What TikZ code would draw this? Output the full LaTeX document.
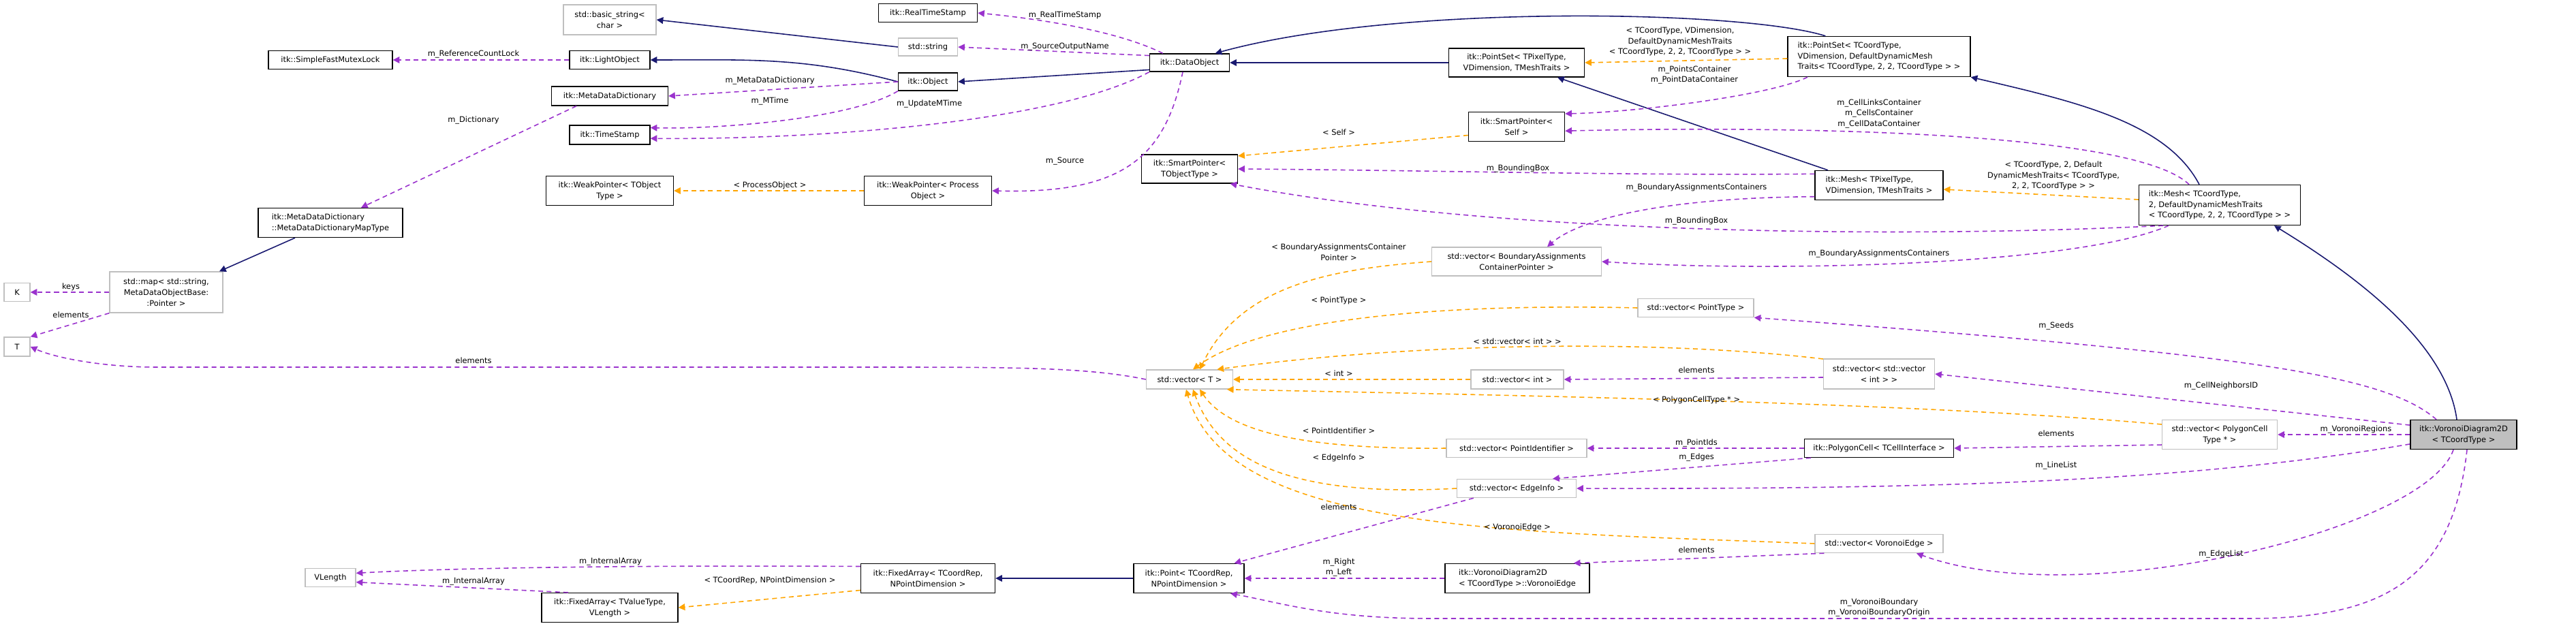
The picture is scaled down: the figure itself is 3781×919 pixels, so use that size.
\documentclass[tikz,border=0pt]{standalone}
\usepackage{fontspec}
\setmainfont{DejaVu Sans}
\usetikzlibrary{arrows.meta}
\definecolor{mem}{HTML}{9A32CD}
\definecolor{tpl}{HTML}{FFA500}
\definecolor{inh}{HTML}{191970}
\definecolor{gb}{HTML}{BFBFBF}
\begin{document}
\begin{tikzpicture}[x=0.02cm,y=-0.02cm,
  every node/.style={font=\fontsize{6.5}{9}\selectfont, inner sep=0pt},
  box/.style={draw=black, line width=0.8pt, fill=white, align=center},
  gbox/.style={draw=gb, line width=0.8pt, fill=white, align=center},
  lb/.style={align=center},
  mm/.style={draw=mem, line width=0.9pt, dash pattern=on 4pt off 3pt, -{Triangle[length=5.5pt,width=5.5pt]}},
  tp/.style={draw=tpl, line width=0.9pt, dash pattern=on 4pt off 3pt, -{Triangle[length=5.5pt,width=5.5pt]}},
  ih/.style={draw=inh, line width=0.9pt, -{Triangle[length=5.5pt,width=5.5pt]}}]
\useasboundingbox (0,0) rectangle (3781,919);
% nodes
\node[gbox, minimum width=2.72cm, minimum height=0.88cm] (bstr) at (895,29) {std::basic\_string<\\char >};
\node[box, minimum width=3.64cm, minimum height=0.54cm] (sfml) at (485,88) {itk::SimpleFastMutexLock};
\node[box, minimum width=2.36cm, minimum height=0.54cm] (lobj) at (895,88) {itk::LightObject};
\node[box, minimum width=3.42cm, minimum height=0.56cm] (mdd) at (895,141) {itk::MetaDataDictionary};
\node[box, minimum width=2.36cm, minimum height=0.56cm] (ts) at (895,198) {itk::TimeStamp};
\node[box, minimum width=3.74cm, minimum height=0.86cm] (wpt) at (895,280) {itk::WeakPointer< TObject\\Type >};
\node[box, minimum width=4.24cm, minimum height=0.86cm, align=left] (mapt) at (485,327) {itk::MetaDataDictionary\\::MetaDataDictionaryMapType};
\node[gbox, minimum width=3.32cm, minimum height=1.2cm] (map) at (244,429) {std::map< std::string,\\MetaDataObjectBase:\\:Pointer >};
\node[gbox, minimum width=0.76cm, minimum height=0.54cm] (K) at (25,429) {K};
\node[gbox, minimum width=0.76cm, minimum height=0.56cm] (T) at (25,509) {T};
\node[gbox, minimum width=1.48cm, minimum height=0.54cm] (vlen) at (485,848) {VLength};
\node[box, minimum width=4.0cm, minimum height=0.86cm] (fatv) at (895,892) {itk::FixedArray< TValueType,\\VLength >};
\node[box, minimum width=2.9cm, minimum height=0.54cm] (rts) at (1362,19) {itk::RealTimeStamp};
\node[gbox, minimum width=1.74cm, minimum height=0.52cm] (str) at (1362,69) {std::string};
\node[box, minimum width=1.74cm, minimum height=0.52cm] (obj) at (1362,120) {itk::Object};
\node[box, minimum width=2.34cm, minimum height=0.52cm] (dobj) at (1746,92) {itk::DataObject};
\node[box, minimum width=3.74cm, minimum height=0.86cm] (wpp) at (1362,280) {itk::WeakPointer< Process\\Object >};
\node[box, minimum width=2.82cm, minimum height=0.84cm] (spt) at (1746,248) {itk::SmartPointer<\\TObjectType >};
\node[box, minimum width=3.98cm, minimum height=0.84cm] (psp) at (2226,92) {itk::PointSet< TPixelType,\\VDimension, TMeshTraits >};
\node[box, minimum width=2.82cm, minimum height=0.86cm] (sps) at (2226,186) {itk::SmartPointer<\\Self >};
\node[gbox, minimum width=4.98cm, minimum height=0.84cm] (vba) at (2226,384) {std::vector< BoundaryAssignments\\ContainerPointer >};
\node[box, minimum width=5.36cm, minimum height=1.18cm, align=left] (psc) at (2758,83) {itk::PointSet< TCoordType,\\ VDimension, DefaultDynamicMesh\\Traits< TCoordType, 2, 2, TCoordType > >};
\node[box, minimum width=3.76cm, minimum height=0.86cm, align=left] (meshp) at (2758,272) {itk::Mesh< TPixelType,\\ VDimension, TMeshTraits >};
\node[box, minimum width=4.74cm, minimum height=1.18cm, align=left] (meshc) at (3258,301) {itk::Mesh< TCoordType,\\ 2, DefaultDynamicMeshTraits\\< TCoordType, 2, 2, TCoordType > >};
\node[gbox, minimum width=3.4cm, minimum height=0.54cm] (vpt) at (2489,452) {std::vector< PointType >};
\node[gbox, minimum width=2.54cm, minimum height=0.56cm] (vT) at (1746,557) {std::vector< T >};
\node[gbox, minimum width=2.72cm, minimum height=0.56cm] (vint) at (2227,557) {std::vector< int >};
\node[gbox, minimum width=4.12cm, minimum height=0.54cm] (vpid) at (2226,658) {std::vector< PointIdentifier >};
\node[gbox, minimum width=3.5cm, minimum height=0.54cm] (vei) at (2226,717) {std::vector< EdgeInfo >};
\node[box, minimum width=3.94cm, minimum height=0.86cm] (fac) at (1362,849) {itk::FixedArray< TCoordRep,\\NPointDimension >};
\node[box, minimum width=3.24cm, minimum height=0.86cm] (pt) at (1745,849) {itk::Point< TCoordRep,\\NPointDimension >};
\node[box, minimum width=4.24cm, minimum height=0.86cm, align=left] (ve) at (2227,849) {itk::VoronoiDiagram2D\\< TCoordType >::VoronoiEdge};
\node[gbox, minimum width=3.26cm, minimum height=0.88cm] (vvi) at (2758,549) {std::vector< std::vector\\< int > >};
\node[box, minimum width=4.38cm, minimum height=0.54cm] (pc) at (2758,658) {itk::PolygonCell< TCellInterface >};
\node[gbox, minimum width=3.38cm, minimum height=0.86cm] (vpc) at (3258,638) {std::vector< PolygonCell\\Type * >};
\node[box, fill=gb, minimum width=3.12cm, minimum height=0.86cm] (vd) at (3616,638) {itk::VoronoiDiagram2D\\< TCoordType >};
\node[gbox, minimum width=3.76cm, minimum height=0.54cm] (vve) at (2758,798) {std::vector< VoronoiEdge >};
% inheritance
\draw[ih] (str.west) -- (bstr.east);
\draw[ih] (obj.west) to[out=165,in=0] (lobj.east);
\draw[ih] (dobj.190) -- (obj.east);
\draw[ih] (psp.west) -- (dobj.east);
\draw[ih] ([xshift=1.12cm]psc.north west) .. controls (2560,15) and (2050,5) .. (dobj.20);
\draw[ih] ([xshift=-1.5cm]meshp.north) -- ([xshift=1.2cm]psp.south);
\draw[ih] ([xshift=-0.6cm]meshc.north) .. controls (3180,180) and (3050,150) .. (psc.south east);
\draw[ih] ([xshift=-0.2cm]vd.north) .. controls (3590,500) and (3450,400) .. ([xshift=1.6cm]meshc.south);
\draw[ih] ([xshift=-1.04cm]mapt.south) -- ([xshift=1.56cm]map.north);
\draw[ih] (pt.west) -- (fac.east);
% members
\draw[mm] (lobj.west) -- (sfml.east);
\draw[mm] (obj.west) -- (mdd.east);
\draw[mm] (obj.south west) .. controls (1250,175) and (1050,190) .. (ts.10);
\draw[mm] (dobj.south west) .. controls (1550,180) and (1200,205) .. (ts.-5);
\draw[mm] ([xshift=0.4cm]dobj.north west) .. controls (1650,50) and (1550,30) .. (rts.east);
\draw[mm] (dobj.170) -- (str.east);
\draw[mm] ([xshift=-0.2cm]dobj.south) .. controls (1710,230) and (1650,285) .. (wpp.east);
\draw[mm] ([xshift=-0.98cm]mdd.south) -- ([xshift=0.9cm]mapt.north);
\draw[mm] (map.west) -- (K.east);
\draw[mm] (map.south west) -- (T.north east);
\draw[mm] (vT.west) .. controls (1600,540) and (1500,539) .. (1300,539) -- (230,539) .. controls (150,539) and (80,525) .. (T.east);
\draw[mm] ([xshift=-2.1cm]psc.south) .. controls (2600,140) and (2400,165) .. (sps.15);
\draw[mm] ([xshift=-0.9cm]meshc.north) .. controls (3130,190) and (2600,185) .. (sps.-5);
\draw[mm] (meshp.170) .. controls (2400,258) and (2100,250) .. (spt.east);
\draw[mm] (meshc.200) .. controls (2800,350) and (2200,345) .. (spt.-20);
\draw[mm] (meshp.190) .. controls (2450,290) and (2320,320) .. ([xshift=0.9cm]vba.north);
\draw[mm] ([xshift=-1.5cm]meshc.south) .. controls (3050,390) and (2600,400) .. (vba.east);
\draw[mm] ([xshift=-0.8cm]vd.north) .. controls (3500,550) and (3300,520) .. (vpt.south east);
\draw[mm] (vd.170) -- (vvi.east);
\draw[mm] (vd.west) -- (vpc.east);
\draw[mm] (vd.190) .. controls (3200,710) and (2800,718) .. (vei.east);
\draw[mm] ([xshift=-0.3cm]vd.south) .. controls (3560,780) and (3050,900) .. ([xshift=1.1cm]vve.south);
\draw[mm] ([xshift=0.1cm]vd.south) .. controls (3600,850) and (3500,908) .. (3300,908) -- (2100,908) .. controls (1950,908) and (1880,885) .. (pt.-20);
\draw[mm] ([yshift=-0.1cm]vvi.west) -- (vint.east);
\draw[mm] (vpc.190) -- (pc.east);
\draw[mm] (pc.west) -- (vpid.east);
\draw[mm] ([xshift=0.2cm]pc.south west) -- (vei.15);
\draw[mm] ([xshift=0.5cm]vei.south west) -- ([xshift=-0.3cm]pt.north east);
\draw[mm] (vve.190) -- (ve.15);
\draw[mm] (ve.west) -- (pt.east);
\draw[mm] (fac.170) .. controls (1000,830) and (700,832) .. (vlen.10);
\draw[mm] (fatv.160) -- (vlen.-10);
% templates
\draw[tp] (wpp.west) -- (wpt.east);
\draw[tp] (sps.190) -- (spt.15);
\draw[tp] ([yshift=-0.06cm]psc.west) -- (psp.east);
\draw[tp] ([yshift=0.16cm]meshc.west) -- ([yshift=-0.12cm]meshp.east);
\draw[tp] (vba.west) .. controls (1950,395) and (1820,420) .. ([xshift=0.3cm]vT.north);
\draw[tp] (vpt.west) .. controls (2100,445) and (1850,470) .. ([xshift=0.1cm]vT.north);
\draw[tp] (vvi.165) .. controls (2450,500) and (2100,500) .. (vT.20);
\draw[tp] (vint.west) -- (vT.east);
\draw[tp] (vpc.170) .. controls (2800,590) and (2200,580) .. (vT.-15);
\draw[tp] (vpid.west) .. controls (1900,660) and (1800,630) .. ([xshift=0.3cm]vT.south);
\draw[tp] (vei.west) .. controls (1900,730) and (1790,680) .. ([xshift=0.1cm]vT.south);
\draw[tp] (vve.west) .. controls (2200,780) and (1800,780) .. ([xshift=-0.1cm]vT.south);
\draw[tp] (fac.190) -- (fatv.east);
% labels
\node[lb] (l1) at (695,80) {m\_ReferenceCountLock};
\node[lb] (l2) at (1130,119) {m\_MetaDataDictionary};
\node[lb] (l3) at (1130,149) {m\_MTime};
\node[lb] (l4) at (695,177) {m\_Dictionary};
\node[lb] (l5) at (1130,272) {< ProcessObject >};
\node[lb] (l6) at (104,421) {keys};
\node[lb] (l7) at (104,462) {elements};
\node[lb] (l8) at (695,529) {elements};
\node[lb] (l9) at (896,824) {m\_InternalArray};
\node[lb] (l10) at (695,853) {m\_InternalArray};
\node[lb] (l11) at (1130,852) {< TCoordRep, NPointDimension >};
\node[lb] (l12) at (1563,23) {m\_RealTimeStamp};
\node[lb] (l13) at (1563,69) {m\_SourceOutputName};
\node[lb] (l14) at (1364,153) {m\_UpdateMTime};
\node[lb] (l15) at (1563,237) {m\_Source};
\node[lb] (l16) at (1965,194) {< Self >};
\node[lb] (l17) at (2228,248) {m\_BoundingBox};
\node[lb] (l18) at (1965,370) {< BoundaryAssignmentsContainer\\Pointer >};
\node[lb] (l19) at (1965,441) {< PointType >};
\node[lb] (l20) at (2466,61) {< TCoordType, VDimension,\\DefaultDynamicMeshTraits\\< TCoordType, 2, 2, TCoordType > >};
\node[lb] (l21) at (2487,110) {m\_PointsContainer\\m\_PointDataContainer};
\node[lb] (l22) at (2758,167) {m\_CellLinksContainer\\m\_CellsContainer\\m\_CellDataContainer};
\node[lb] (l23) at (2490,276) {m\_BoundaryAssignmentsContainers};
\node[lb] (l24) at (3014,258) {< TCoordType, 2, Default\\DynamicMeshTraits< TCoordType,\\2, 2, TCoordType > >};
\node[lb] (l25) at (2490,325) {m\_BoundingBox};
\node[lb] (l26) at (2758,373) {m\_BoundaryAssignmentsContainers};
\node[lb] (l27) at (2227,501) {< std::vector< int > >};
\node[lb] (l28) at (1965,548) {< int >};
\node[lb] (l29) at (2490,587) {< PolygonCellType * >};
\node[lb] (l30) at (1965,632) {< PointIdentifier >};
\node[lb] (l31) at (1965,672) {< EdgeInfo >};
\node[lb] (l32) at (1965,744) {elements};
\node[lb] (l33) at (2227,774) {< VoronoiEdge >};
\node[lb] (l34) at (1965,833) {m\_Right\\m\_Left};
\node[lb] (l35) at (3018,479) {m\_Seeds};
\node[lb] (l36) at (2490,543) {elements};
\node[lb] (l37) at (3260,567) {m\_CellNeighborsID};
\node[lb] (l38) at (3018,636) {elements};
\node[lb] (l39) at (3458,631) {m\_VoronoiRegions};
\node[lb] (l40) at (2490,651) {m\_PointIds};
\node[lb] (l41) at (2490,672) {m\_Edges};
\node[lb] (l42) at (3018,683) {m\_LineList};
\node[lb] (l43) at (2490,807) {elements};
\node[lb] (l44) at (3260,813) {m\_EdgeList};
\node[lb] (l45) at (2758,892) {m\_VoronoiBoundary\\m\_VoronoiBoundaryOrigin};
\end{tikzpicture}
\end{document}
